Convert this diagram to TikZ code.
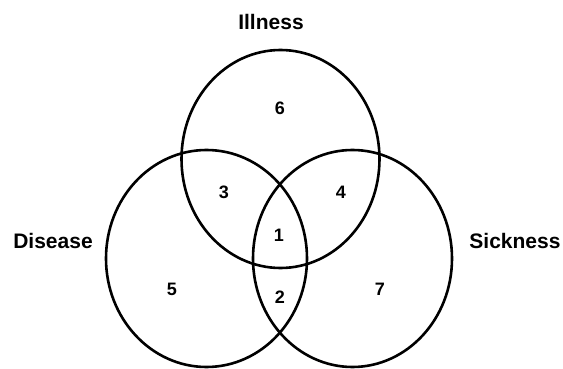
\documentclass[tikz,border=0pt]{standalone}
\usepackage{fontspec}
\setmainfont{Liberation Sans}
\begin{document}
\begin{tikzpicture}[x=1pt,y=-1pt,
  ring/.style={draw=black,line width=2.6pt},
  setlabel/.style={font=\fontsize{21}{24}\selectfont\bfseries,inner sep=0pt,anchor=center},
  region/.style={font=\fontsize{18}{20}\selectfont\bfseries,inner sep=0pt,anchor=center}]
\useasboundingbox (0,0) rectangle (563,369);
\coordinate (ctop) at (280.5,159);
\coordinate (cleft) at (206.5,258.5);
\coordinate (cright) at (352.5,258.5);
\draw[ring] (ctop) ellipse [x radius=99, y radius=109];
\draw[ring] (cleft) ellipse [x radius=100.5, y radius=108.5];
\draw[ring] (cright) ellipse [x radius=99.5, y radius=108.5];
\node[setlabel] (illness) at (271,21.5) {Illness};
\node[setlabel] (disease) at (53,240.5) {Disease};
\node[setlabel] (sickness) at (515,240.5) {Sickness};
\node[region] (r6) at (280,108.5) {6};
\node[region] (r3) at (224,192) {3};
\node[region] (r4) at (341,192) {4};
\node[region] (r1) at (279,235.5) {1};
\node[region] (r5) at (172,289) {5};
\node[region] (r2) at (280,297.5) {2};
\node[region] (r7) at (380,289) {7};
\end{tikzpicture}
\end{document}
